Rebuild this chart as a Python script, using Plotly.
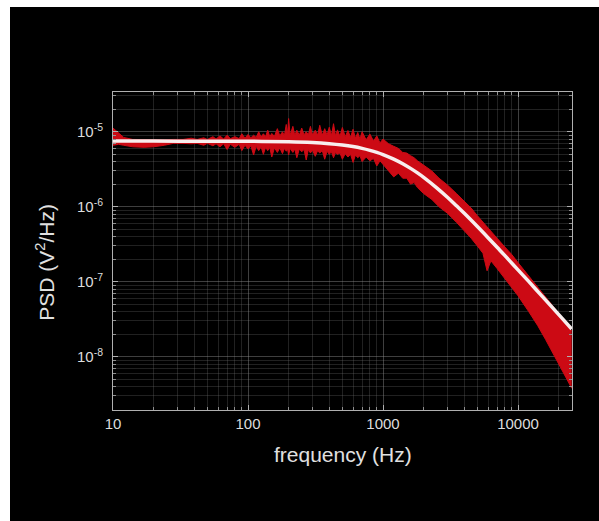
import plotly.graph_objects as go

# ---- data ----
freq_data = [10, 11, 12, 14, 17, 20, 24, 28, 33, 38, 42, 47, 50, 55, 58, 62, 66, 70, 74, 80, 86,
             90, 95, 100, 105, 110, 115, 120, 125, 130, 135, 140, 145, 150, 157, 165, 172, 180,
             186, 192, 196, 200, 205, 215, 222, 230, 240, 250, 260, 270, 280, 290, 300, 315, 328,
             340, 355, 370, 385, 400, 415, 430, 445, 460, 480, 500, 525, 550, 575, 600, 625, 650,
             675, 700, 750, 800, 850, 900, 950, 1000,
             1100, 1200, 1300, 1400, 1500, 1600, 1700, 1800, 2000, 2300, 2600, 3000, 3500, 4000,
             4500, 5000, 5500, 5900, 6300, 7000, 8000, 9000, 10000, 12000, 14000, 16000, 18000,
             20000, 22000, 24000, 25000]
psd_upper = [1.12e-5, 9.5e-6, 8.4e-6, 7.9e-6, 7.8e-6, 7.8e-6, 7.8e-6, 7.9e-6, 7.9e-6, 8.2e-6,
             7.9e-6, 8.3e-6, 7.9e-6, 8.6e-6, 8.0e-6, 8.8e-6, 8.0e-6, 9.0e-6, 8.1e-6, 8.6e-6, 8.1e-6,
             9.4e-6, 8.2e-6, 9.2e-6, 8.3e-6, 9.0e-6, 8.4e-6, 1.0e-5, 8.5e-6, 9.4e-6, 8.6e-6,
             1.05e-5, 8.6e-6, 9.5e-6, 8.7e-6, 1.1e-5, 8.8e-6, 1.0e-5, 8.9e-6, 1.25e-5, 9.0e-6,
             1.5e-5, 9.0e-6, 1.18e-5, 9.0e-6, 1.05e-5, 9.0e-6, 1.12e-5, 9.1e-6, 1.0e-5, 9.1e-6,
             1.18e-5, 9.1e-6, 1.05e-5, 9.0e-6, 1.22e-5, 9.0e-6, 1.1e-5, 9.0e-6, 1.15e-5, 8.9e-6,
             1.28e-5, 8.8e-6, 1.06e-5, 8.7e-6, 1.14e-5, 8.6e-6, 1.04e-5, 8.4e-6, 1.08e-5, 8.2e-6,
             9.8e-6, 8.0e-6, 1.0e-5, 7.8e-6, 9.3e-6, 7.5e-6, 8.8e-6, 7.1e-6, 8.0e-6,
             6.9e-6, 6.4e-6, 6.0e-6, 5.3e-6, 5.2e-6, 4.8e-6, 4.5e-6, 4.1e-6, 3.6e-6, 3.0e-6,
             2.4e-6, 1.95e-6, 1.5e-6, 1.18e-6, 9.6e-7, 7.6e-7, 6.2e-7, 5.4e-7, 4.8e-7, 3.8e-7,
             2.9e-7, 2.3e-7, 1.8e-7, 1.2e-7, 8.6e-8, 6.4e-8, 4.9e-8, 3.8e-8, 3.0e-8, 2.4e-8,
             2.2e-8]
psd_lower = [6.6e-6, 6.8e-6, 6.6e-6, 6.3e-6, 6.2e-6, 6.3e-6, 6.6e-6, 7.0e-6, 7.0e-6, 6.9e-6,
             7.0e-6, 6.6e-6, 7.0e-6, 6.5e-6, 6.9e-6, 6.3e-6, 6.9e-6, 5.8e-6, 6.8e-6, 6.2e-6, 6.8e-6,
             5.6e-6, 6.6e-6, 5.9e-6, 6.5e-6, 4.9e-6, 6.4e-6, 5.6e-6, 6.3e-6, 5.0e-6, 6.2e-6,
             5.6e-6, 6.2e-6, 4.6e-6, 6.1e-6, 5.3e-6, 6.1e-6, 5.1e-6, 6.0e-6, 5.5e-6, 6.0e-6,
             4.9e-6, 6.0e-6, 5.3e-6, 5.9e-6, 4.5e-6, 5.9e-6, 5.4e-6, 5.8e-6, 4.2e-6, 5.8e-6,
             5.2e-6, 5.7e-6, 4.7e-6, 5.6e-6, 5.2e-6, 5.6e-6, 4.3e-6, 5.5e-6, 5.0e-6, 5.4e-6,
             4.5e-6, 5.3e-6, 5.0e-6, 5.2e-6, 4.3e-6, 5.1e-6, 4.6e-6, 5.0e-6, 3.9e-6, 4.9e-6,
             4.5e-6, 4.8e-6, 4.0e-6, 4.6e-6, 4.1e-6, 4.4e-6, 3.5e-6, 4.1e-6, 3.7e-6,
             3.0e-6, 2.5e-6, 2.8e-6, 2.4e-6, 2.4e-6, 2.0e-6, 2.1e-6, 1.8e-6, 1.5e-6, 1.25e-6,
             1.0e-6, 8.2e-7, 6.2e-7, 4.8e-7, 3.8e-7, 3.0e-7, 2.4e-7, 1.4e-7, 1.9e-7, 1.5e-7,
             1.1e-7, 8.5e-8, 6.5e-8, 4.0e-8, 2.6e-8, 1.7e-8, 1.15e-8, 8.0e-9, 5.8e-9, 4.3e-9,
             3.8e-9]

freq_fit = [10, 20, 50, 100, 200, 300, 400, 500, 600, 700, 800, 900, 1000, 1200, 1400, 1600,
            1800, 2000, 2500, 3000, 3500, 4000, 5000, 6000, 7000, 8000, 10000, 12000, 15000,
            18000, 21000, 25000]
psd_fit = [7.5e-6, 7.5e-6, 7.49e-6, 7.46e-6, 7.35e-6, 7.17e-6, 6.93e-6, 6.65e-6, 6.34e-6,
           6.0e-6, 5.65e-6, 5.31e-6, 4.97e-6, 4.32e-6, 3.75e-6, 3.25e-6, 2.83e-6, 2.47e-6,
           1.79e-6, 1.34e-6, 1.03e-6, 8.18e-7, 5.45e-7, 3.87e-7, 2.88e-7, 2.23e-7, 1.44e-7,
           1.01e-7, 6.48e-8, 4.51e-8, 3.32e-8, 2.34e-8]

x_tickvals = [10, 100, 1000, 10000]
x_ticktext = ["10", "100", "1000", "10000"]
y_tickvals = [1e-8, 1e-7, 1e-6, 1e-5]
y_ticktext = ["10<sup>-8</sup>", "10<sup>-7</sup>", "10<sup>-6</sup>", "10<sup>-5</sup>"]
x_minor = [m * 10 ** e for e in range(1, 5) for m in range(2, 10)]
y_minor = [m * 10.0 ** e for e in range(-9, -4) for m in range(2, 10)]

RED = "#cc0a14"
FONT = "Liberation Sans, Arial, sans-serif"

fig = go.Figure()
fig.add_trace(go.Scatter(x=freq_data, y=psd_upper, mode="lines",
                         line=dict(color=RED, width=1), showlegend=False, hoverinfo="skip"))
fig.add_trace(go.Scatter(x=freq_data, y=psd_lower, mode="lines", fill="tonexty",
                         fillcolor=RED, line=dict(color=RED, width=1),
                         showlegend=False, hoverinfo="skip"))
fig.add_trace(go.Scatter(x=freq_fit, y=psd_fit, mode="lines", line_shape="spline",
                         line=dict(color="#f8eeee", width=3.5), showlegend=False))

axis_common = dict(
    showline=True, linecolor="#b0b0b0", linewidth=1, mirror="allticks",
    ticks="inside", ticklen=5, tickcolor="#b0b0b0",
    showgrid=True, gridcolor="rgba(140,140,140,0.45)", gridwidth=1,
    zeroline=False,
    tickfont=dict(family=FONT, size=15, color="#dddddd"),
)

fig.update_xaxes(type="log", range=[1, 4.4], tickmode="array",
                 tickvals=x_tickvals, ticktext=x_ticktext,
                 minor=dict(tickmode="array", tickvals=x_minor, ticks="inside", ticklen=3,
                            tickcolor="#909090", showgrid=True,
                            gridcolor="rgba(110,110,110,0.3)"),
                 **axis_common)
fig.update_yaxes(type="log", range=[-8.71, -4.47], tickmode="array",
                 tickvals=y_tickvals, ticktext=y_ticktext,
                 minor=dict(tickmode="array", tickvals=y_minor, ticks="inside", ticklen=3,
                            tickcolor="#909090", showgrid=True,
                            gridcolor="rgba(110,110,110,0.3)"),
                 ticklabelstandoff=6,
                 **axis_common)

fig.update_layout(
    width=599, height=521,
    margin=dict(l=113, r=27, t=92, b=111),
    paper_bgcolor="white", plot_bgcolor="black",
    shapes=[dict(type="rect", xref="paper", yref="paper",
                 x0=-0.2244, x1=1.06, y0=-0.35, y1=1.267,
                 fillcolor="black", line=dict(width=0), layer="below")],
    annotations=[
        dict(text="frequency (Hz)", xref="paper", yref="paper", x=0.5, y=-0.14,
             xanchor="center", yanchor="middle", showarrow=False,
             font=dict(family=FONT, size=21, color="#e0e0e0")),
        dict(text="PSD (V<sup>2</sup>/Hz)", xref="paper", yref="paper", x=-0.147, y=0.465,
             xanchor="center", yanchor="middle", showarrow=False, textangle=-90,
             font=dict(family=FONT, size=21, color="#e0e0e0")),
    ],
)

fig.write_html("out.html")
